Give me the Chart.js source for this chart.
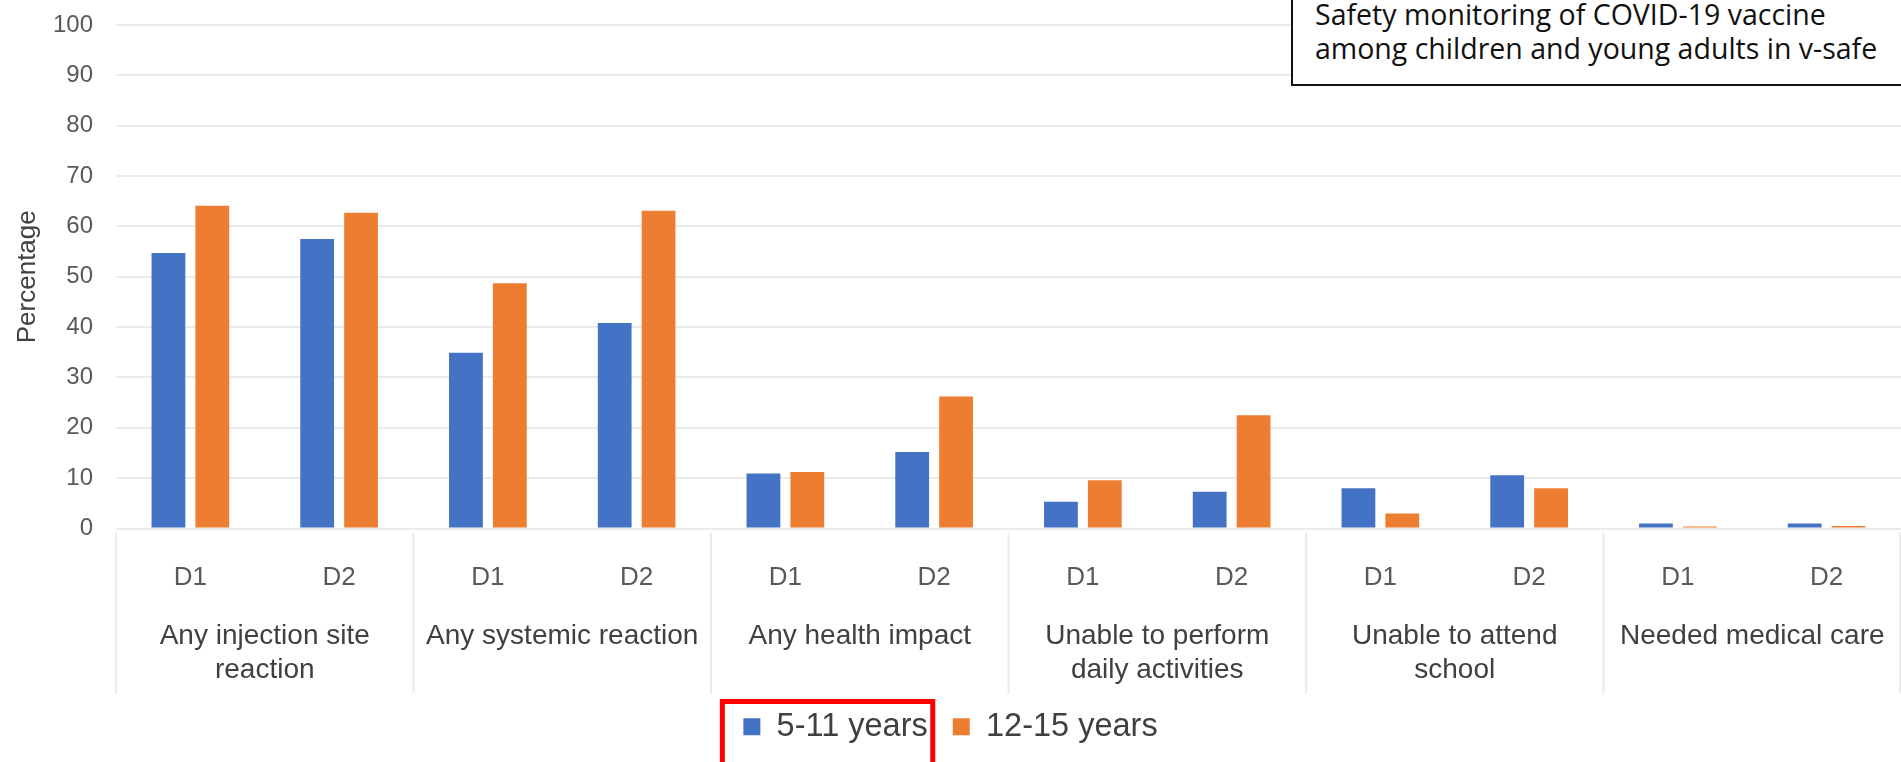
<!DOCTYPE html>
<html>
<head>
<meta charset="utf-8">
<script src="https://cdn.jsdelivr.net/npm/chart.js@4.4.1/dist/chart.umd.min.js"></script>
<style>
  html, body { margin: 0; padding: 0; background: #fff; overflow: hidden; }
  #wrap { position: relative; width: 1901px; height: 762px; }
  #note {
    position: absolute;
    left: 1291px;
    top: -8px;
    width: 680px;
    height: 94px;
    box-sizing: border-box;
    border: 2px solid #111;
    background: #fff;
    padding: 0 0 0 22px;
    font-family: "Open Sans", sans-serif;
    font-size: 28.5px;
    line-height: 34px;
    color: #111;
    white-space: nowrap;
  }
  #note div:first-child { margin-top: 3px; }
</style>
</head>
<body>
<div id="wrap">
  <canvas id="chart" width="1901" height="762"></canvas>
  <div id="note">
    <div>Safety monitoring of COVID-19 vaccine</div>
    <div>among children and young adults in v-safe</div>
  </div>
</div>
<script>
const doses = ["D1", "D2", "D1", "D2", "D1", "D2", "D1", "D2", "D1", "D2", "D1", "D2"];
const groups = [
  ["Any injection site", "reaction"],
  "Any systemic reaction",
  "Any health impact",
  ["Unable to perform", "daily activities"],
  ["Unable to attend", "school"],
  "Needed medical care",
];
const age5to11 = [54.7, 57.5, 34.9, 40.8, 10.9, 15.2, 5.3, 7.3, 8.0, 10.6, 1.0, 1.0];
const age12to15 = [64.1, 62.7, 48.7, 63.1, 11.2, 26.2, 9.6, 22.5, 3.0, 8.0, 0.4, 0.5];
const yTicks = [0, 10, 20, 30, 40, 50, 60, 70, 80, 90, 100];

const FONT = "'Liberation Sans', Arial, sans-serif";

// vertical separators between the outer category groups, like Excel's multi-level axis
const groupLines = {
  id: "groupLines",
  afterDraw(chart) {
    const { ctx, chartArea } = chart;
    const x = chart.scales.x;
    const per = doses.length / groups.length;
    ctx.save();
    ctx.strokeStyle = "#ebebeb";
    ctx.lineWidth = 2;
    for (let g = 0; g <= groups.length; g++) {
      let px;
      if (g === 0) px = chartArea.left;
      else if (g === groups.length) px = chartArea.right - 1;
      else px = (x.getPixelForValue(g * per - 1) + x.getPixelForValue(g * per)) / 2;
      ctx.beginPath();
      ctx.moveTo(px, chartArea.bottom + 4);
      ctx.lineTo(px, chartArea.bottom + 165);
      ctx.stroke();
    }
    ctx.restore();
  },
};

// red highlight around the first legend entry
const legendMark = {
  id: "legendMark",
  afterDraw(chart) {
    const hit = chart.legend.legendHitBoxes[0];
    if (!hit) return;
    const ctx = chart.ctx;
    ctx.save();
    ctx.strokeStyle = "#ff0000";
    ctx.lineWidth = 5;
    ctx.strokeRect(hit.left - 21, hit.top - 9, hit.width + 26, 90);
    ctx.restore();
  },
};

new Chart(document.getElementById("chart"), {
  type: "bar",
  data: {
    labels: doses,
    datasets: [
      { label: "5-11 years", data: age5to11, backgroundColor: "#4472c4" },
      { label: "12-15 years", data: age12to15, backgroundColor: "#ed7d31" },
    ],
  },
  options: {
    responsive: false,
    animation: false,
    categoryPercentage: 0.59,
    barPercentage: 0.77,
    layout: { padding: { top: 25, right: 0, left: 0, bottom: 9 } },
    plugins: {
      legend: {
        position: "bottom",
        labels: {
          font: { family: FONT, size: 32.5 },
          color: "#404040",
          boxWidth: 17,
          boxHeight: 17,
          padding: 25,
        },
      },
      tooltip: { enabled: false },
    },
    scales: {
      x: {
        type: "category",
        offset: true,
        grid: { display: false },
        border: { display: false },
        ticks: {
          autoSkip: false,
          maxRotation: 0,
          padding: 26,
          color: "#595959",
          font: { family: FONT, size: 26 },
        },
        afterFit: (s) => { s.height = 72; },
      },
      x2: {
        type: "category",
        position: "bottom",
        labels: groups,
        offset: true,
        grid: { display: false },
        border: { display: false },
        ticks: {
          autoSkip: false,
          maxRotation: 0,
          padding: 11,
          color: "#404040",
          font: { family: FONT, size: 28, lineHeight: 34 / 28 },
        },
        afterFit: (s) => { s.height = 85; },
      },
      y: {
        min: 0,
        max: 100,
        afterBuildTicks: (s) => { s.ticks = yTicks.map((v) => ({ value: v })); },
        grid: { color: "#ebebeb", lineWidth: 2, drawTicks: true, tickLength: 23, tickColor: "rgba(0,0,0,0)" },
        border: { display: false },
        ticks: {
          padding: 0,
          color: "#595959",
          font: { family: FONT, size: 24 },
        },
        title: {
          display: true,
          text: "Percentage",
          color: "#404040",
          font: { family: FONT, size: 26 },
          padding: { top: 12, bottom: 0 },
        },
        afterFit: (s) => { s.width = 116; },
      },
    },
  },
  plugins: [groupLines, legendMark],
});
</script>
</body>
</html>
